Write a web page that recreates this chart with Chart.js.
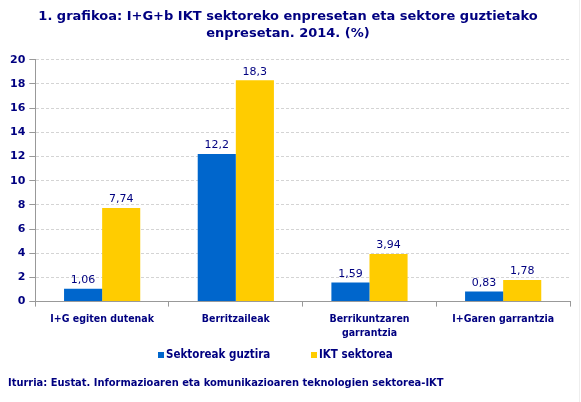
<!DOCTYPE html>
<html>
<head>
<meta charset="utf-8">
<script src="https://cdn.jsdelivr.net/npm/chart.js@4"></script>
<style>
  html, body { margin: 0; padding: 0; background: #fff; }
  #wrap { width: 581px; height: 402px; position: relative; }
</style>
</head>
<body>
<div id="wrap"><canvas id="chart"></canvas></div>
<script>
const categories = ['I+G egiten dutenak', 'Berritzaileak', ['Berrikuntzaren', 'garrantzia'], 'I+Garen garrantzia'];
const seriesNames = ['Sektoreak guztira', 'IKT sektorea'];
const seriesColors = ['#0066cc', '#ffcc00'];
const allSectors = [1.06, 12.2, 1.59, 0.83];
const ictSector = [7.74, 18.3, 3.94, 1.78];
const yTicks = [0, 2, 4, 6, 8, 10, 12, 14, 16, 18, 20];

const navy = '#000080';
const titleLines = ['1. grafikoa: I+G+b IKT sektoreko enpresetan eta sektore guztietako', 'enpresetan. 2014. (%)'];
const sourceText = 'Iturria: Eustat. Informazioaren eta komunikazioaren teknologien sektorea-IKT';

function fmt(v) {
    return String(v).replace('.', ',');
}

// value labels above bars, hand drawn legend and the source line
const labelsPlugin = {
    id: 'barLabels',
    afterDatasetsDraw(chart) {
        const ctx = chart.ctx;
        ctx.save();
        ctx.font = '11px "DejaVu Sans"';
        ctx.fillStyle = navy;
        ctx.textAlign = 'center';
        ctx.textBaseline = 'bottom';
        chart.data.datasets.forEach((ds, i) => {
            chart.getDatasetMeta(i).data.forEach((bar, j) => {
                ctx.fillText(fmt(ds.data[j]), bar.x, bar.y - 3);
            });
        });
        ctx.restore();
    },
    afterDraw(chart) {
        const ctx = chart.ctx;
        ctx.save();
        ctx.fillStyle = navy;
        ctx.textBaseline = 'middle';
        ctx.textAlign = 'left';

        // legend
        const legendX = [158, 311];
        ctx.font = 'bold 11.5px "DejaVu Sans Condensed"';
        seriesNames.forEach((name, i) => {
            ctx.fillStyle = seriesColors[i];
            ctx.fillRect(legendX[i], 352, 6, 6);
            ctx.fillStyle = navy;
            ctx.fillText(name, legendX[i] + 8, 355.5);
        });

        ctx.font = 'bold 11px "DejaVu Sans Condensed"';
        ctx.fillText(sourceText, 8, 383);

        ctx.strokeStyle = '#eeeeee';
        ctx.beginPath();
        ctx.moveTo(579.5, 0);
        ctx.lineTo(579.5, 402);
        ctx.stroke();
        ctx.restore();
    }
};

new Chart(document.getElementById('chart'), {
    type: 'bar',
    data: {
        labels: categories,
        datasets: [
            { label: seriesNames[0], data: allSectors, backgroundColor: seriesColors[0] },
            { label: seriesNames[1], data: ictSector, backgroundColor: seriesColors[1] }
        ]
    },
    options: {
        responsive: true,
        maintainAspectRatio: false,
        animation: false,
        devicePixelRatio: 1,
        datasets: { bar: { categoryPercentage: 0.57, barPercentage: 1 } },
        layout: { padding: { left: 6, right: 11, top: 4, bottom: 56 } },
        plugins: {
            title: {
                display: true,
                text: titleLines,
                color: navy,
                font: { family: '"DejaVu Sans"', size: 13, weight: 'bold', lineHeight: 1.3 },
                padding: { top: 4, bottom: 18 }
            },
            legend: { display: false },
            tooltip: { enabled: false }
        },
        scales: {
            x: {
                grid: { drawOnChartArea: false, drawTicks: true, tickLength: 5, color: '#999999' },
                border: { color: '#999999' },
                ticks: {
                    color: navy,
                    maxRotation: 0,
                    autoSkip: false,
                    padding: 5,
                    font: { family: '"DejaVu Sans Condensed"', size: 10.5, weight: 'bold', lineHeight: 1.4 }
                }
            },
            y: {
                min: 0,
                max: 20,
                afterBuildTicks(axis) { axis.ticks = yTicks.map(v => ({ value: v })); },
                grid: { color: '#d4d4d4', tickColor: '#999999', tickLength: 6 },
                border: { color: '#999999', dash: [3, 2] },
                ticks: {
                    color: navy,
                    padding: 4,
                    font: { family: '"DejaVu Sans"', size: 11, weight: 'bold' }
                }
            }
        }
    },
    plugins: [labelsPlugin]
});
</script>
</body>
</html>
